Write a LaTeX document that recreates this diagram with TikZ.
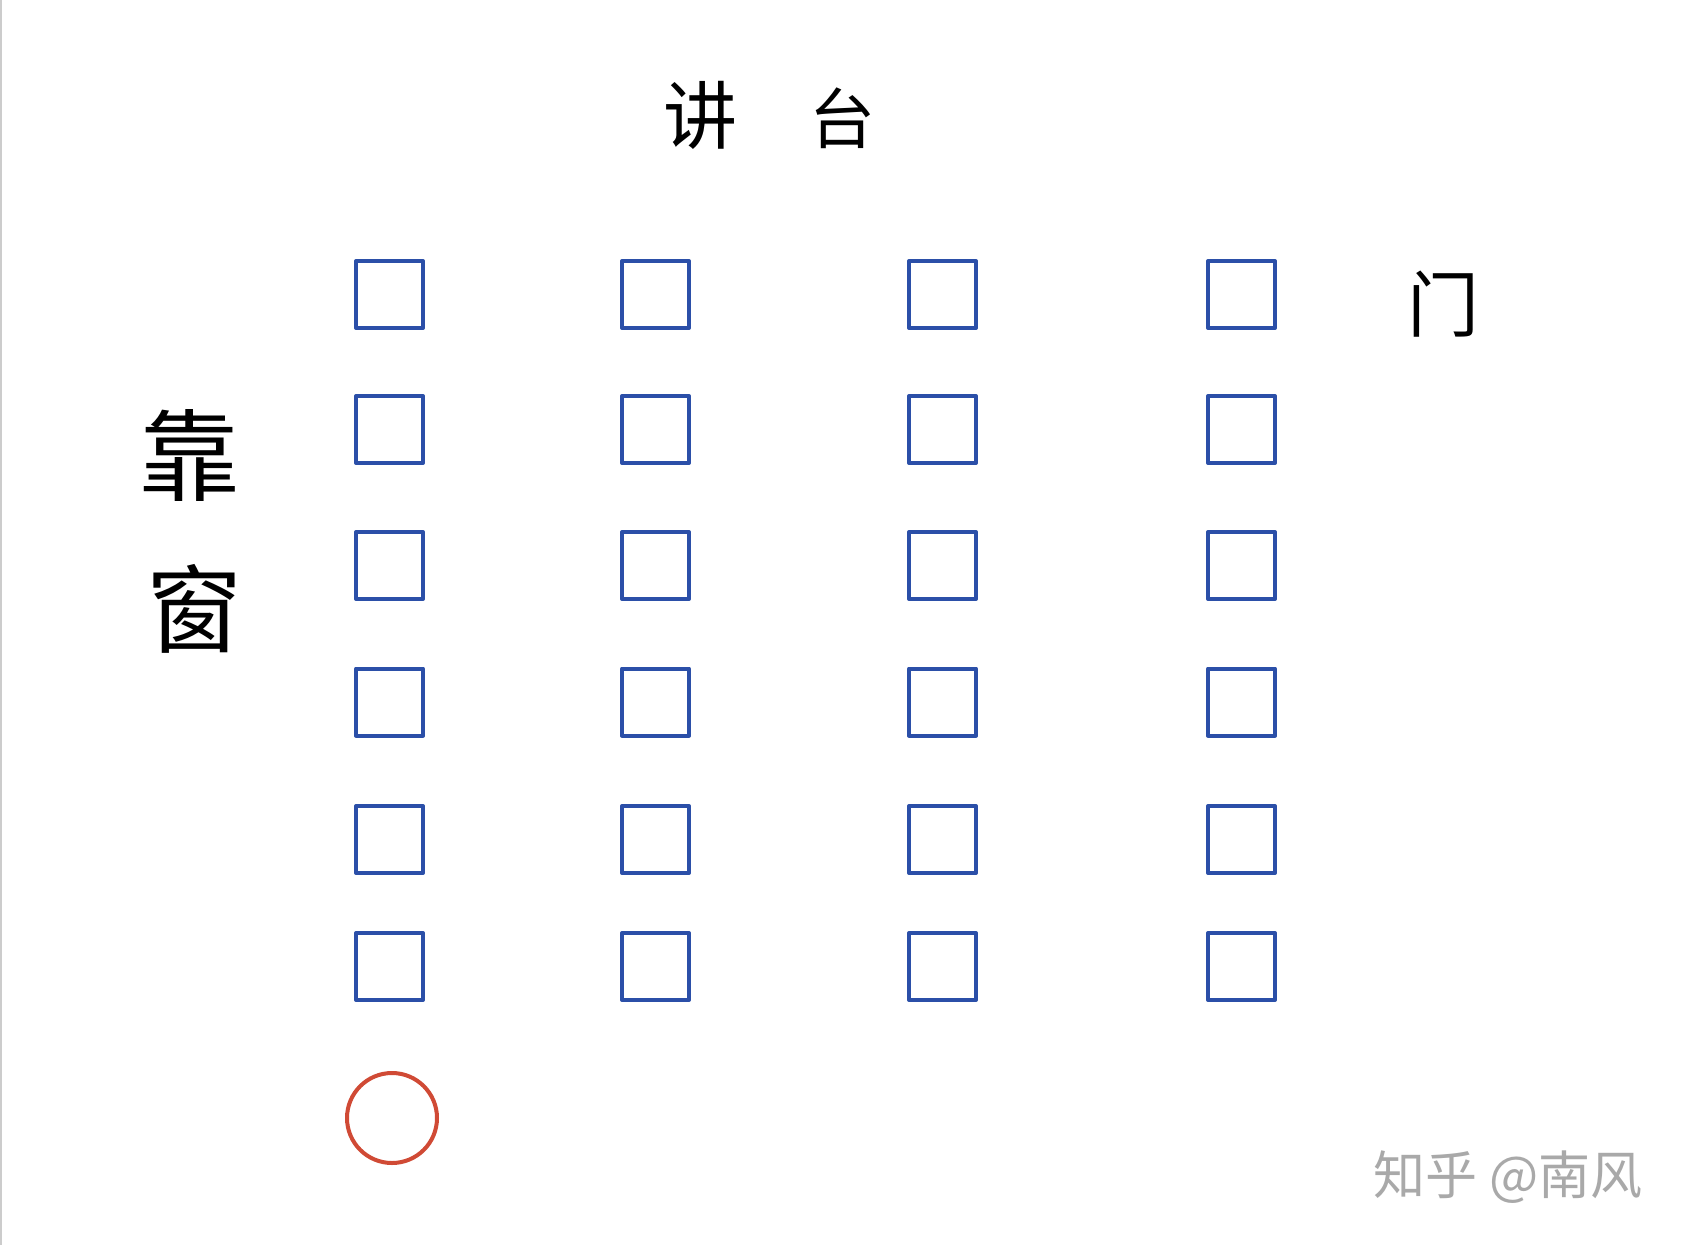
\documentclass[tikz,border=0pt]{standalone}
\usepackage{fontspec}
\newfontfamily\cjk{Noto Sans CJK SC}
\definecolor{seatblue}{HTML}{2B4FA8}
\definecolor{mered}{HTML}{D04A35}
\definecolor{wmgray}{HTML}{A9A9A9}
\begin{document}
\begin{tikzpicture}[x=1pt,y=-1pt,
  seat/.style={draw=seatblue,line width=4pt,line join=round,minimum size=67pt,inner sep=0pt,shape=rectangle},
  me/.style={draw=mered,line width=4pt,circle,minimum size=90pt,inner sep=0pt},
  label/.style={font=\cjk,text=black,inner sep=0pt},
  wm/.style={font=\cjk\fontsize{52}{52}\selectfont,text=wmgray,inner sep=0pt}]
\useasboundingbox (0,0) rectangle (1683,1245);
\fill[white] (0,0) rectangle (1683,1245);
\draw[gray!40,line width=1.5pt] (1,0) -- (1,1245);
% seats
\foreach \c/\x in {1/389.5,2/655.5,3/942.5,4/1241.5}{
  \foreach \r/\y in {1/294.5,2/429.5,3/565.5,4/702,5/839.5,6/966.5}{
    \node[seat] (s\c\r) at (\x,\y) {};
  }
}
\node[me] (me) at (392,1118) {};
% labels
\node[label,font=\cjk\fontsize{74}{74}\selectfont] (jiang) at (700,115) {讲};
\node[label,font=\cjk\fontsize{66}{66}\selectfont] (tai) at (842,118) {台};
\node[label,font=\cjk\fontsize{100}{100}\selectfont] (kao) at (189,455) {靠};
\node[label,font=\cjk\fontsize{96}{96}\selectfont] (chuang) at (194,609) {窗};
\node[label,font=\cjk\fontsize{72}{72}\selectfont] (men) at (1443,304) {门};
\node[wm] (mark) at (1508,1177) {知乎 @南风};
\end{tikzpicture}
\end{document}
